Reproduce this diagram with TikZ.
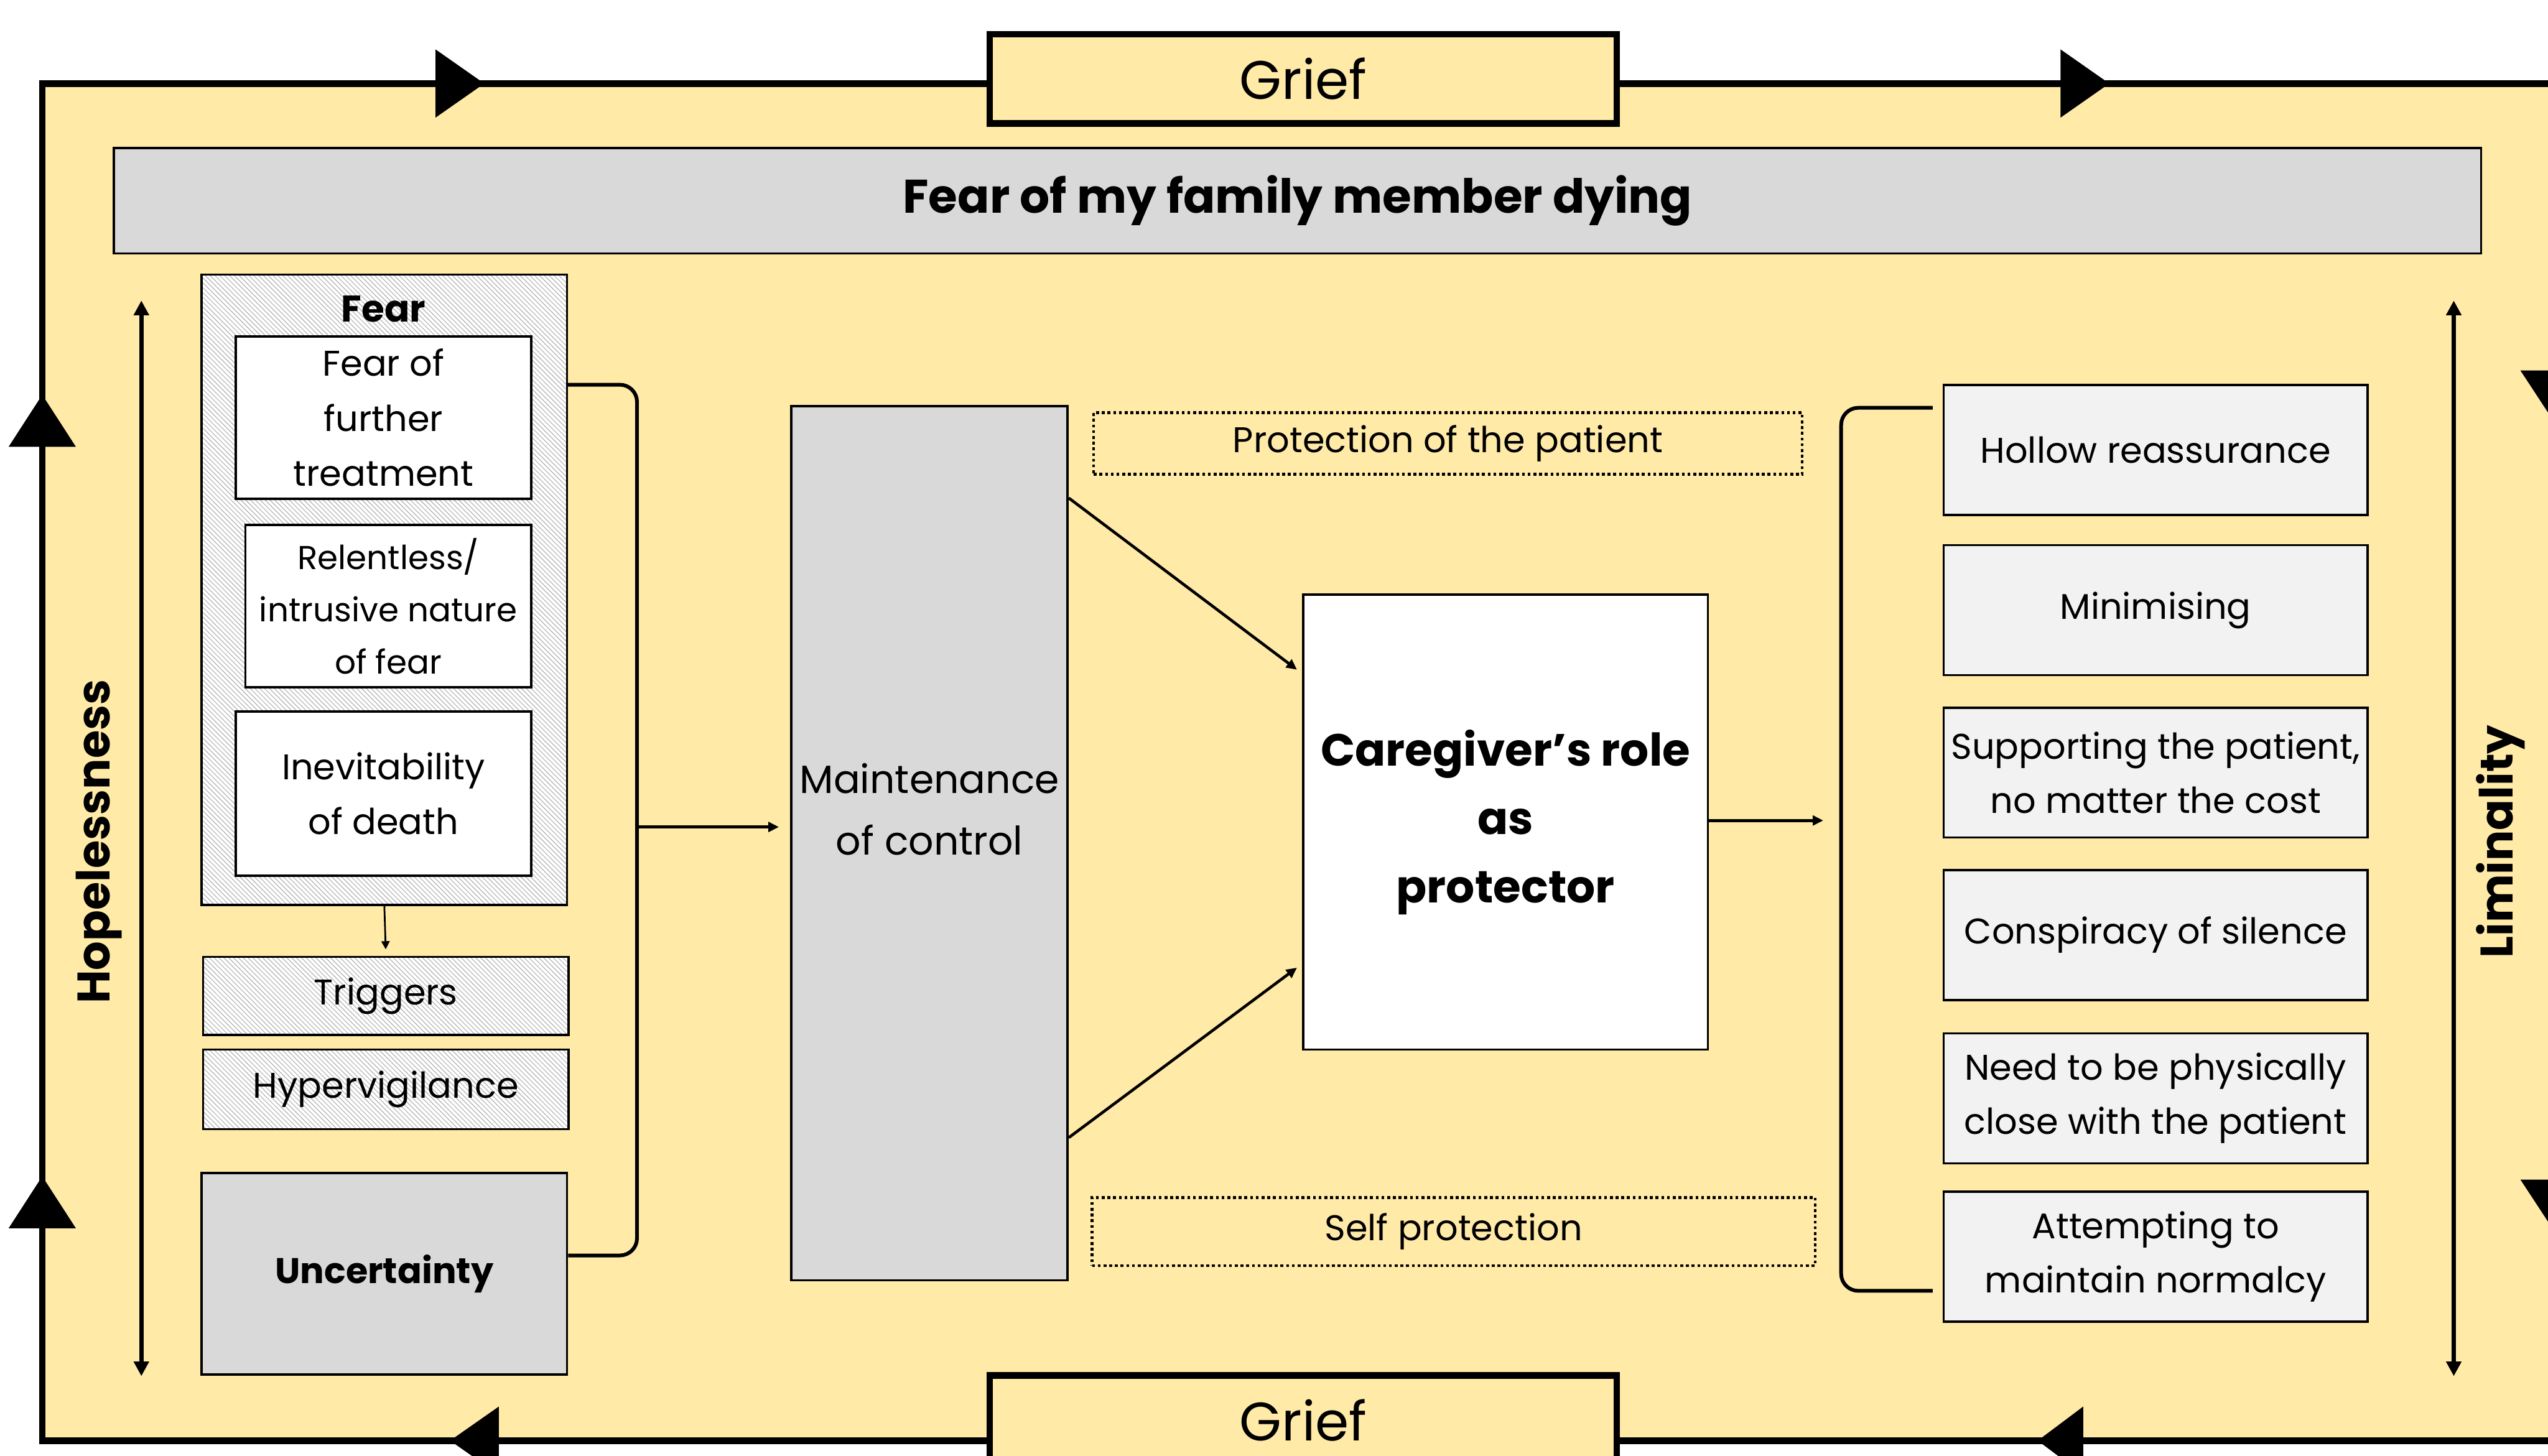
\documentclass[tikz,border=0pt]{standalone}
\usepackage{fontspec}
\setmainfont{Poppins}
\usetikzlibrary{arrows.meta,calc,patterns.meta}

\definecolor{frameyellow}{RGB}{255,234,168}
\definecolor{boxgray}{RGB}{217,217,217}
\definecolor{lightbox}{RGB}{242,242,242}

\begin{document}
\begin{tikzpicture}[x=0.02cm,y=-0.02cm,
		plainbox/.style={draw,line width=0.8pt,inner sep=0pt,align=center,font=\fontsize{12.5}{19}\selectfont},
		hatchbox/.style={plainbox,preaction={fill=white},pattern={Lines[angle=-45,distance=1.2pt,line width=0.25pt]},pattern color=black!30},
		griefbox/.style={draw,line width=2.3pt,fill=frameyellow,minimum width=7.72cm,minimum height=1.1cm,font=\fontsize{19}{22}\selectfont},
		rightbox/.style={plainbox,fill=lightbox,minimum width=5.22cm,minimum height=1.6cm},
		dotbox/.style={plainbox,line width=1pt,dash pattern=on 1pt off 1pt},
		sidelabel/.style={rotate=90,font=\bfseries\fontsize{16}{19}\selectfont},
		smallarrow/.style={line width=0.6pt,-{Triangle[length=0.1cm,width=0.1cm]}},
		flowarrow/.style={line width=1pt,-{Triangle[length=0.13cm,width=0.12cm]}},
		spanarrow/.style={line width=1.5pt,{Triangle[length=0.18cm,width=0.18cm]}-{Triangle[length=0.18cm,width=0.18cm]}},
		bracket/.style={line width=1.3pt,rounded corners=6pt}]
	\useasboundingbox (0,0) rectangle (1568,896);
	\clip (0,0) rectangle (1568,896);
	\draw[line width=2.3pt,fill=frameyellow] (26,51.4) rectangle (1572,886.7);
	\draw (802,48.5) node [griefbox] (grieftop) {Grief};
	\draw (802,874) node [griefbox] (griefbot) {Grief};
	\fill (268,30.4) -- (298,51.4) -- (268,72.4) -- cycle;
	\fill (1268,30.4) -- (1298,51.4) -- (1268,72.4) -- cycle;
	\fill (307,865.7) -- (277,886.7) -- (307,907.7) -- cycle;
	\fill (1282,865.7) -- (1254,886.7) -- (1282,907.7) -- cycle;
	\fill (5.3,275) -- (26,243) -- (46.7,275) -- cycle;
	\fill (5.3,756) -- (26,724) -- (46.7,756) -- cycle;
	\fill (1551,228) -- (1572,260) -- (1593,228) -- cycle;
	\fill (1551,726) -- (1572,758) -- (1593,726) -- cycle;

	\draw (798.5,123.5) node [plainbox,fill=boxgray,minimum width=29.14cm,minimum height=1.3cm,font=\bfseries\fontsize{16.5}{19}\selectfont] (fearbanner) {Fear of my family member dying};

	\coordinate (hopetop) at (87,185);
	\coordinate (hopebot) at (87,847);
	\draw[spanarrow] (hopetop) -- (hopebot);
	\draw (61,518) node [sidelabel] (hopelabel) {Hopelessness};
	\coordinate (limtop) at (1510,185);
	\coordinate (limbot) at (1510,847);
	\draw[spanarrow] (limtop) -- (limbot);
	\draw (1539,518) node [sidelabel] (limlabel) {Liminality};

	\draw (236.5,363) node [hatchbox,minimum width=4.5cm,minimum height=7.76cm] (fearbox) {};
	\draw (236,190) node [font=\bfseries\fontsize{13}{16}\selectfont] (feartitle) {Fear};
	\draw (236,257) node [plainbox,fill=white,minimum width=3.64cm,minimum height=2cm,font=\fontsize{12.5}{19.3}\selectfont] (fearone) {Fear of\\further\\treatment};
	\draw (239,373) node [plainbox,fill=white,minimum width=3.52cm,minimum height=2cm,font=\fontsize{11.6}{18.3}\selectfont] (feartwo) {Relentless/\\intrusive nature\\of fear};
	\draw (236,488.5) node [plainbox,fill=white,minimum width=3.64cm,minimum height=2.02cm,font=\fontsize{12.5}{19.3}\selectfont] (fearthree) {Inevitability\\of death};
	\draw (237.5,613) node [hatchbox,minimum width=4.5cm,minimum height=0.96cm] (triggers) {Triggers};
	\draw (237.5,670.5) node [hatchbox,minimum width=4.5cm,minimum height=0.98cm] (hyper) {Hypervigilance};
	\draw (236.5,784) node [plainbox,fill=boxgray,minimum width=4.5cm,minimum height=2.48cm,font=\bfseries\fontsize{12.5}{19}\selectfont] (uncert) {Uncertainty};
	\path[smallarrow,shorten >=0.08cm] (fearbox.south) edge (triggers.north);

	\coordinate (fearhook) at ($(fearbox.north east)!0.175!(fearbox.south east)$);
	\coordinate (uncerthook) at ($(uncert.north east)!0.41!(uncert.south east)$);
	\coordinate (lbrack) at (392,509);
	\draw[bracket] (fearhook) -- (fearhook -| lbrack) -- (uncerthook -| lbrack) -- (uncerthook);

	\draw (572,519) node [plainbox,fill=boxgray,minimum width=3.4cm,minimum height=10.76cm] (maint) {};
	\draw (572,498) node [align=center,font=\fontsize{13.8}{21.5}\selectfont] (mainttext) {Maintenance\\of control};
	\path[flowarrow,shorten >=0.14cm] (lbrack) edge (maint.west |- lbrack);

	\draw (891,273) node [dotbox,minimum width=8.72cm,minimum height=0.76cm] (protpatient) {Protection of the patient};
	\draw (894.5,758) node [dotbox,minimum width=8.9cm,minimum height=0.84cm] (protself) {Self protection};

	\draw (926.5,506) node [plainbox,fill=white,minimum width=4.98cm,minimum height=5.6cm,font=\bfseries\fontsize{15.8}{24}\selectfont] (role) {Caregiver’s role\\as\\protector};
	\coordinate (maintup) at ($(maint.north east)!0.106!(maint.south east)$);
	\coordinate (maintdown) at ($(maint.north east)!0.836!(maint.south east)$);
	\coordinate (roleup) at ($(role.north west)!0.175!(role.south west)$);
	\coordinate (roledown) at ($(role.north west)!0.81!(role.south west)$);
	\path[flowarrow,shorten >=0.08cm]
		(maintup) edge (roleup)
		(maintdown) edge (roledown);

	\draw (1326.5,277) node [rightbox] (hollow) {Hollow reassurance};
	\draw (1326.5,375.5) node [rightbox] (minimise) {Minimising};
	\draw (1326.5,475.5) node [rightbox] (support) {Supporting the patient,\\no matter the cost};
	\draw (1326.5,575.5) node [rightbox] (silence) {Conspiracy of silence};
	\draw (1326.5,676) node [rightbox] (close) {Need to be physically\\close with the patient};
	\draw (1326.5,773.5) node [rightbox] (normal) {Attempting to\\maintain normalcy};

	\coordinate (rbrack) at (1133,505);
	\coordinate (hollowhook) at ([shift={(-6,-26)}]hollow.west);
	\coordinate (normalhook) at ([shift={(-6,21)}]normal.west);
	\draw[bracket] (hollowhook) -- (hollowhook -| rbrack) -- (normalhook -| rbrack) -- (normalhook);
	\path[flowarrow,shorten >=0.22cm] (role.east |- rbrack) edge (rbrack);
\end{tikzpicture}
\end{document}
